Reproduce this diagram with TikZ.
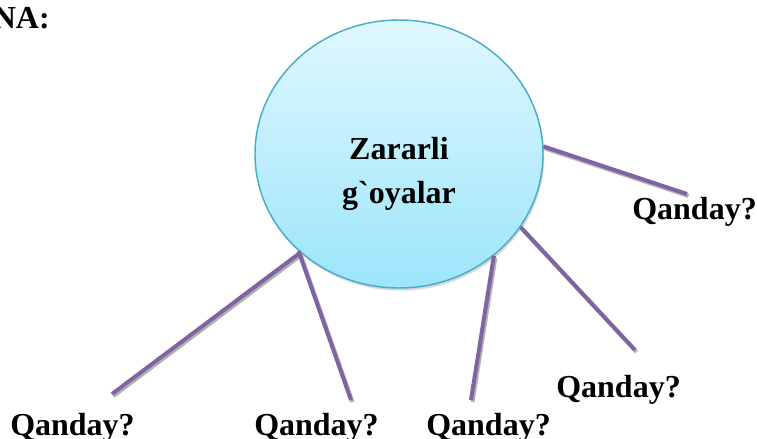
\documentclass[tikz,border=0pt]{standalone}
\usepackage{fontspec}
\usepackage{tikz}
\usetikzlibrary{calc,shadows,shapes.geometric}
\newfontfamily\labelfont{Liberation Serif}
\definecolor{ideaedge}{HTML}{4BACC6}
\definecolor{ideatop}{HTML}{E0F8FF}
\definecolor{ideabottom}{HTML}{9CE5FA}
\definecolor{linkpurple}{HTML}{8064A2}
\tikzset{
	qtext/.style={font=\labelfont\bfseries\fontsize{24}{33}\selectfont, inner sep=0pt},
	link/.style={line width=3pt, color=linkpurple},
	linkshadow/.style={line width=3pt, color=black!30}
}

\begin{document}
\begin{tikzpicture}[x=0.75pt, y=-0.75pt]
			%%%%% START %%%%%
			\useasboundingbox (0, 0) rectangle (757, 439);
			
			\node[qtext, anchor=base east] (na) at (50, 28) {NA:};
			
			\node[ellipse, draw=ideaedge, line width=1.1pt, minimum width=216pt, minimum height=201pt, top color=ideatop, bottom color=ideabottom, drop shadow={shadow xshift=1pt, shadow yshift=-2pt, opacity=0.3}] (idea) at (399, 154) {};
			\node[qtext, align=center] (ideatext) at (399, 174) {Zararli\\g`oyalar};
			
			\node[qtext, anchor=base west] (q1) at (632, 219) {Qanday?};
			\node[qtext, anchor=base west] (q2) at (556, 397) {Qanday?};
			\node[qtext, anchor=base west] (q3) at (10, 435) {Qanday?};
			\node[qtext, anchor=base west] (q4) at (254, 435) {Qanday?};
			\node[qtext, anchor=base west] (q5) at (426, 435) {Qanday?};
			
			\coordinate (e1) at (687, 194);
			\coordinate (e2) at (635, 350);
			\coordinate (e3) at (112, 394);
			\coordinate (e4) at (351, 400);
			\coordinate (e5) at (471, 400);
			
			% shadows
			\draw[linkshadow] ($(idea.3)+(1.5, 2)$) -- ($(e1)+(1.5, 2)$);
			\draw[linkshadow] ($(idea.329)+(1.5, 2)$) -- ($(e2)+(1.5, 2)$);
			\draw[linkshadow] ($(idea.225)+(1.5, 2)$) -- ($(e3)+(1.5, 2)$);
			\draw[linkshadow] ($(idea.224)+(1.5, 2)$) -- ($(e4)+(1.5, 2)$);
			\draw[linkshadow] ($(idea.313)+(1.5, 2)$) -- ($(e5)+(1.5, 2)$);
			
			\draw[link] (idea.3) -- (e1);
			\draw[link] (idea.329) -- (e2);
			\draw[link] (idea.225) -- (e3);
			\draw[link] (idea.224) -- (e4);
			\draw[link] (idea.313) -- (e5);
			
			%%%%% END %%%%%
		\end{tikzpicture}
\end{document}
